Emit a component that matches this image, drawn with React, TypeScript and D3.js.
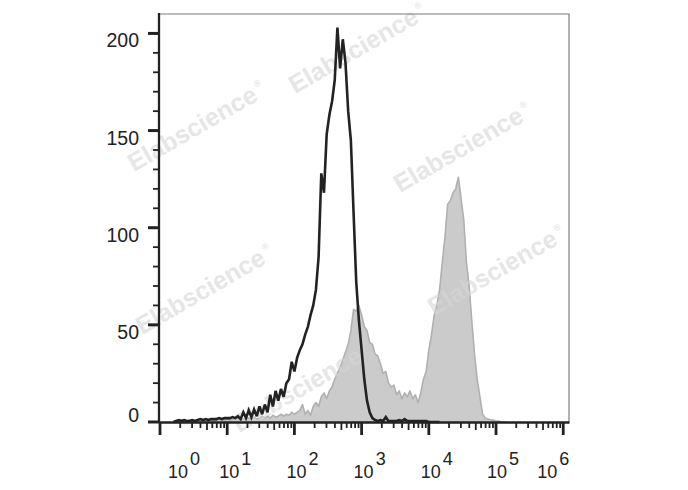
import React from 'react';
import * as d3 from 'd3';

// Histogram bins: log10(intensity) starts at logStart, step logStep
const logStart = 0.2;
const logStep = 0.04;

// Control (black line) counts per bin
const controlCounts = [
  0, 0.5, 1, 0.5, 1, 0.5, 0.5, 1, 0.5, 1,
  1.5, 1, 1.5, 1, 1.5, 1.5, 1.5, 2, 1.5, 2,
  2, 2, 2.5, 2, 3, 1.5, 5, 2, 6, 2.5,
  6.5, 3, 8, 4, 9, 5, 14, 8, 16, 11,
  17, 13, 20, 22, 31, 26, 33, 37, 40, 45,
  49, 55, 60, 68, 85, 128, 118, 148, 158, 165,
  176, 203, 182, 197, 185, 160, 145, 108, 72, 52,
  37, 22, 11, 5, 2, 1, 0.5, 1, 0.5, 2.5,
  0.5, 0.5, 0.5, 0.5, 1, 0.5, 1.5, 0.5, 0.5, 0.5,
  0.5, 0.5, 0.5, 0.5, 0.5, 0, 0, 0, 0, 0,
];

// Stained sample (grey filled) counts per bin
const stainedCounts = [
  0, 0.5, 0.5, 1, 0.5, 0.5, 1, 0.5, 0.5, 1,
  0.5, 1, 0.5, 1, 1, 0.5, 1, 1.5, 1, 1,
  1.5, 1, 1.5, 1, 2, 1, 1.5, 1.5, 2, 1.5,
  2.5, 1.5, 2, 3, 2, 3, 2, 3.5, 2.5, 3,
  4, 3, 4, 3.5, 5, 4, 5, 6, 9, 4,
  6, 3.5, 8, 10, 8, 13, 15, 12, 16, 18,
  22, 25, 28, 32, 36, 40, 47, 58, 57, 60,
  55, 49, 47, 41, 40, 35, 34, 30, 25, 26,
  20, 18, 19, 14, 16, 12, 15, 13, 16, 12,
  14, 10, 15, 22, 26, 37, 45, 55, 60, 68,
  82, 95, 112, 114, 118, 120, 126, 115, 104, 82,
  70, 52, 35, 22, 13, 4, 2, 1.5, 1, 1,
  0.5, 0.5, 0, 0, 0,
];

const yMajorTicks = [0, 50, 100, 150, 200];
const yMinorTicks = d3.range(0, 201, 10).filter((v) => v % 50 !== 0);
const decades = [0, 1, 2, 3, 4, 5, 6];
const minorMultipliers = [2, 3, 4, 5, 6, 7, 8, 9];
const xLabelOffsets = [8, -8, -8, -8, -8, -9, -26];
const watermarkText = 'Elabscience';

const FONT = "'Liberation Sans', Arial, Helvetica, sans-serif";

export default function App() {
  const W = 688;
  const H = 490;
  const left = 159;
  const right = 569;
  const top = 14;
  const bottom = 422;

  const x = d3.scaleLog().domain([10 ** -0.015, 10 ** 6.086]).range([left, right]);
  const y = d3.scaleLinear().domain([0, 210]).range([bottom, top]);

  const toPts = (arr: number[]) =>
    arr.map((v, i) => [x(10 ** (logStart + i * logStep)), y(v)] as [number, number]);

  const ctrl = toPts(controlCounts);
  const stain = toPts(stainedCounts);

  const line = d3.line<[number, number]>().x((d) => d[0]).y((d) => d[1]);
  const area = d3
    .area<[number, number]>()
    .x((d) => d[0])
    .y0(y(0))
    .y1((d) => d[1]);

  const wmPos: [number, number][] = [
    [295, 94],
    [134, 172],
    [400, 193],
    [142, 335],
    [434, 316],
    [239, 433],
  ];

  const minorX: { v: number; mid: boolean }[] = [];
  decades.slice(0, -1).forEach((k) => {
    minorMultipliers.forEach((m) => minorX.push({ v: m * 10 ** k, mid: m === 5 }));
  });

  const axisColor = '#222';

  return (
    <svg
      width={W}
      height={H}
      style={{ position: 'absolute', left: 0, top: 0, background: '#fff' }}
      fontFamily={FONT}
    >
      <rect x={0} y={0} width={W} height={H} fill="#fff" />
      {/* stained sample */}
      <path d={area(stain) || ''} fill="#cbcbcb" stroke="none" />
      <path d={line(stain) || ''} fill="none" stroke="#b0b0b0" strokeWidth={1.6} strokeLinejoin="round" />

      {/* watermarks */}
      {wmPos.map(([wx, wy], i) => (
        <g key={i} transform={`translate(${wx},${wy}) rotate(-30)`} opacity={0.6}>
          <text fontSize={25} fontWeight="bold" fill="#d6d6d6">
            {watermarkText}
            <tspan fontSize={9} dx={3} dy={-12}>®</tspan>
          </text>
        </g>
      ))}

      {/* control */}
      <path d={line(ctrl) || ''} fill="none" stroke="#222" strokeWidth={2.6} strokeLinejoin="miter" strokeMiterlimit={3} />

      {/* frame */}
      <line x1={left} x2={right + 0.5} y1={top} y2={top} stroke="#7a7a7a" strokeWidth={1} />
      <line x1={right} x2={right} y1={top} y2={bottom} stroke="#666" strokeWidth={1} />

      {/* y axis */}
      <line x1={left} x2={left} y1={top - 1} y2={bottom + 1} stroke={axisColor} strokeWidth={2.3} />
      {yMinorTicks.map((v) => (
        <line key={'ym' + v} x1={left - 6} x2={left} y1={y(v)} y2={y(v)} stroke={axisColor} strokeWidth={1.8} />
      ))}
      {yMajorTicks.map((v) => (
        <line key={'yM' + v} x1={left - 11} x2={left} y1={y(v)} y2={y(v)} stroke={axisColor} strokeWidth={3} />
      ))}
      {yMajorTicks.map((v) => (
        <text
          key={'yl' + v}
          x={139}
          y={v === 0 ? y(v) : y(v) + 14}
          textAnchor="end"
          fontSize={19.5}
          fill={axisColor}
        >
          {v}
        </text>
      ))}

      {/* x axis */}
      <line x1={left} x2={right + 0.5} y1={bottom + 0.5} y2={bottom + 0.5} stroke={axisColor} strokeWidth={2.5} />
      {minorX.map(({ v, mid }) => (
        <line
          key={'xm' + v}
          x1={x(v)}
          x2={x(v)}
          y1={bottom}
          y2={bottom + (mid ? 8 : 6)}
          stroke={axisColor}
          strokeWidth={1.8}
        />
      ))}
      {decades.map((k) => (
        <line
          key={'xM' + k}
          x1={x(10 ** k)}
          x2={x(10 ** k)}
          y1={bottom}
          y2={bottom + 13}
          stroke={axisColor}
          strokeWidth={2.8}
        />
      ))}
      {decades.map((k, i) => (
        <text key={'xl' + k} x={x(10 ** k) + xLabelOffsets[i]} y={478} fontSize={18} fill={axisColor}>
          10
          <tspan dx={2} dy={-13}>{k}</tspan>
        </text>
      ))}
    </svg>
  );
}
